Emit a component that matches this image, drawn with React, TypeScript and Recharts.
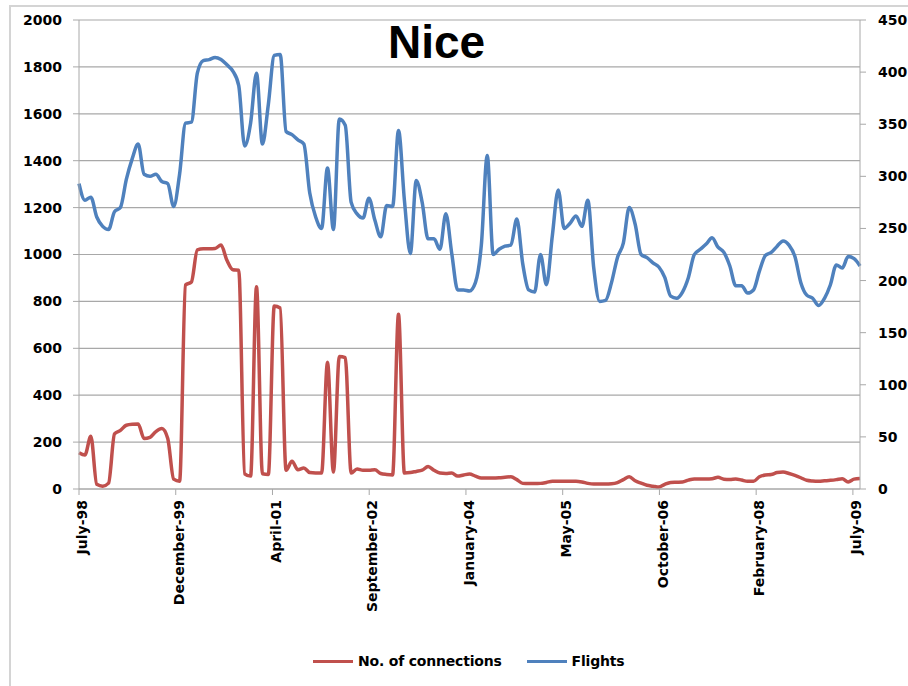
import React from "react";
import { CartesianGrid, Legend, Line, LineChart, XAxis, YAxis } from "recharts";

// monthly series, July 1998 to July 2009
const connections = [
  155, 145, 225, 20, 12, 25, 235, 250, 272, 276,
  277, 215, 220, 245, 258, 215, 42, 33, 870, 883,
  1020, 1025, 1025, 1026, 1040, 975, 935, 933, 65, 55,
  862, 65, 62, 780, 772, 80, 118, 82, 90, 70,
  68, 68, 540, 72, 565, 560, 68, 85, 80, 80,
  82, 66, 62, 60, 745, 68, 70, 75, 80, 96,
  80, 68, 66, 68, 55, 60, 64, 55, 47, 47,
  47, 48, 50, 52, 40, 24, 23, 23, 24, 28,
  33, 33, 33, 33, 33, 30, 24, 21, 21, 21,
  22, 27, 40, 52, 35, 25, 16, 12, 8, 20,
  28, 29, 30, 38, 43, 43, 43, 44, 50, 42,
  41, 43, 38, 33, 33, 52, 60, 62, 70, 72,
  66, 58, 48, 37, 34, 33, 35, 37, 40, 44,
  30, 42, 45,
];

const flights = [
  293, 277, 280, 261, 252, 249, 266, 270, 297, 317,
  331, 302, 300, 302, 295, 293, 271, 302, 351, 352,
  399, 411, 412, 414, 412, 407, 401, 387, 329, 351,
  399, 331, 369, 416, 417, 343, 340, 335, 331, 284,
  261, 250, 308, 249, 355, 349, 275, 264, 260, 279,
  258, 242, 272, 271, 344, 277, 226, 296, 275, 240,
  240, 230, 264, 226, 191, 191, 190, 198, 234, 320,
  225, 230, 233, 234, 259, 216, 191, 189, 225, 196,
  243, 287, 250, 255, 262, 252, 277, 212, 180, 181,
  198, 222, 236, 270, 254, 225, 222, 217, 213, 203,
  185, 183, 189, 203, 225, 230, 235, 241, 232, 227,
  214, 195, 195, 188, 191, 209, 224, 227, 233, 238,
  234, 223, 198, 186, 183, 176, 183, 196, 215, 212,
  223, 221, 214,
];

const dateLabels = [
  "July-98",
  "December-99",
  "April-01",
  "September-02",
  "January-04",
  "May-05",
  "October-06",
  "February-08",
  "July-09",
];
const tickStep = 16.35;
const dateTicks = dateLabels.map((_, k) => k * tickStep);

const leftTicks = [0, 200, 400, 600, 800, 1000, 1200, 1400, 1600, 1800, 2000];
const rightTicks = [0, 50, 100, 150, 200, 250, 300, 350, 400, 450];

const data = connections.map((c, i) => ({
  idx: i,
  connections: c,
  flights: flights[i],
}));

const RED = "#C0504D";
const BLUE = "#4F81BD";
const GRID = "#a8a8a8";
const FONT = "'DejaVu Sans', Verdana, sans-serif";

const tickStyle = {
  fill: "#000",
  fontSize: 14,
  fontWeight: 700,
  fontFamily: FONT,
};

function DateTick(props: any) {
  const { x, y, payload } = props;
  const label = dateLabels[Math.round(payload.value / tickStep)];
  return (
    <text
      x={x}
      y={y}
      transform={`rotate(-90, ${x}, ${y})`}
      textAnchor="end"
      dy="0.58em"
      {...tickStyle}
    >
      {label}
    </text>
  );
}

function LegendBox() {
  const item = (color: string, text: string, gap: number) => (
    <span style={{ display: "inline-flex", alignItems: "center", marginRight: gap }}>
      <span
        style={{
          display: "inline-block",
          width: 40,
          height: 3,
          background: color,
          marginRight: 5,
        }}
      />
      <span>{text}</span>
    </span>
  );
  return (
    <div
      style={{
        height: 20,
        display: "flex",
        alignItems: "center",
        paddingLeft: 313,
        fontFamily: FONT,
        fontSize: 14,
        fontWeight: 700,
        color: "#000",
        letterSpacing: -0.2,
      }}
    >
      {item(RED, "No. of connections", 25)}
      {item(BLUE, "Flights", 0)}
    </div>
  );
}

export default function App() {
  return (
    <div
      style={{
        position: "fixed",
        left: 0,
        top: 0,
        width: 908,
        height: 686,
        overflow: "hidden",
        background: "#fff",
      }}
    >
      <div
        style={{
          position: "absolute",
          left: 9,
          top: 5,
          width: 940,
          height: 720,
          border: "2px solid #d4d4d4",
        }}
      />
      <LineChart
        width={908}
        height={686}
        data={data}
        margin={{ top: 20, right: 0, left: 0, bottom: 15 }}
      >
        <CartesianGrid
          yAxisId="left"
          vertical={false}
          stroke={GRID}
          strokeWidth={1.2}
        />
        <XAxis
          dataKey="idx"
          type="number"
          domain={[0, 132]}
          ticks={dateTicks}
          interval={0}
          height={162}
          tickSize={6}
          tickMargin={5}
          tick={<DateTick />}
          stroke={GRID}
          axisLine={{ stroke: GRID }}
          tickLine={{ stroke: GRID }}
        />
        <YAxis
          yAxisId="left"
          width={79}
          domain={[0, 2000]}
          ticks={leftTicks}
          interval={0}
          tickSize={6}
          tickMargin={11}
          tick={tickStyle}
          axisLine={{ stroke: GRID }}
          tickLine={{ stroke: GRID }}
        />
        <YAxis
          yAxisId="right"
          orientation="right"
          width={48}
          domain={[0, 450]}
          ticks={rightTicks}
          interval={0}
          tickSize={6}
          tickMargin={12}
          tick={{ ...tickStyle, textAnchor: "start" }}
          axisLine={{ stroke: GRID }}
          tickLine={{ stroke: GRID }}
        />
        <Legend verticalAlign="bottom" content={() => <LegendBox />} />
        <Line
          yAxisId="left"
          dataKey="connections"
          name="No. of connections"
          type="monotone"
          stroke={RED}
          strokeWidth={3.5}
          dot={false}
          activeDot={false}
          isAnimationActive={false}
        />
        <Line
          yAxisId="right"
          dataKey="flights"
          name="Flights"
          type="monotone"
          stroke={BLUE}
          strokeWidth={3.5}
          dot={false}
          activeDot={false}
          isAnimationActive={false}
        />
      </LineChart>
      <div
        style={{
          position: "absolute",
          left: 388,
          top: 14,
          fontFamily: "'Liberation Sans', Arial, sans-serif",
          fontWeight: 700,
          fontSize: 46,
          lineHeight: "56px",
          color: "#000",
        }}
      >
        Nice
      </div>
    </div>
  );
}
